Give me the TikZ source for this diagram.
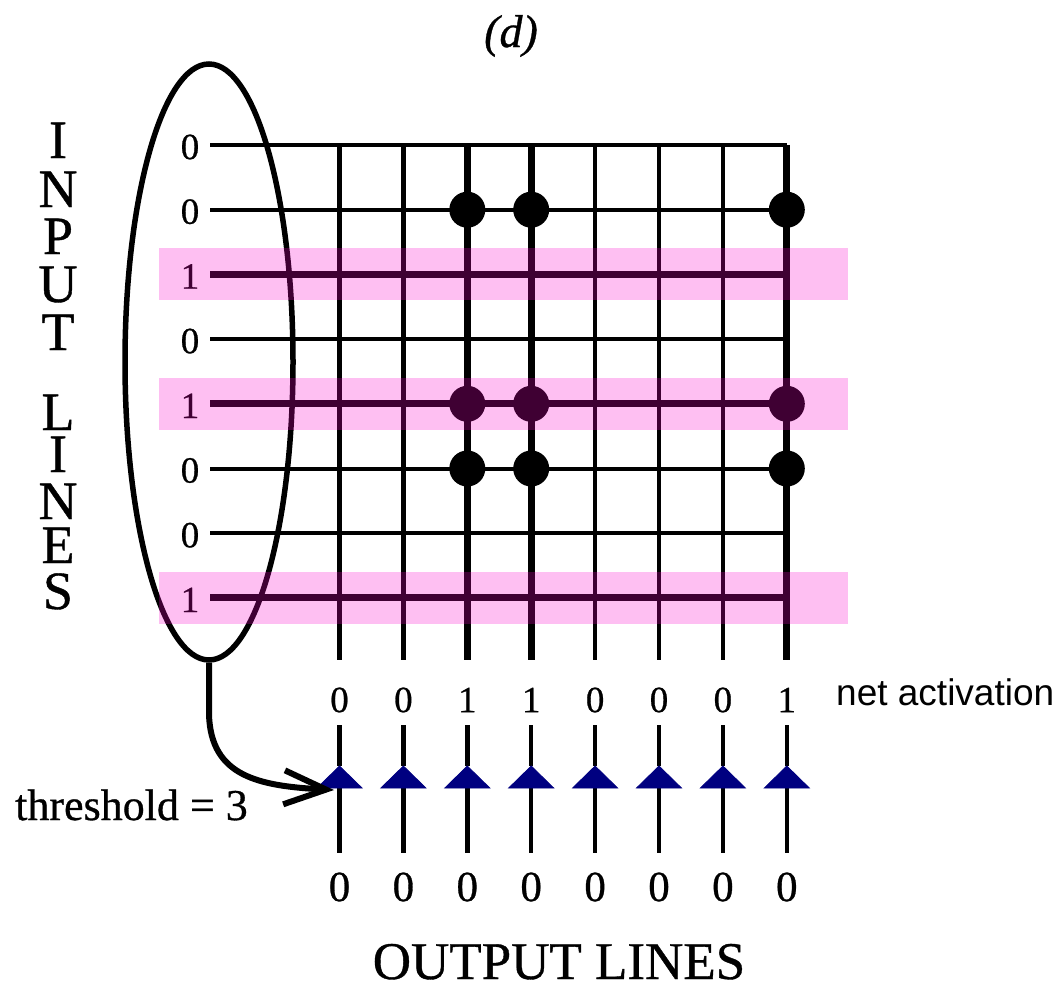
\documentclass[tikz,border=0pt]{standalone}
\usepackage{fontspec}
\setmainfont{Liberation Serif}[FakeBold=0.7]
\newfontfamily\sansfam{Liberation Sans}
\usetikzlibrary{arrows.meta,shapes.geometric}
\definecolor{bandpink}{RGB}{252,0,204}
\definecolor{trinavy}{RGB}{0,0,128}
\begin{document}
\begin{tikzpicture}[x=1pt,y=-1pt,
  digit/.style={font=\fontsize{37}{40}\selectfont, inner sep=0pt},
  outdigit/.style={font=\fontsize{43}{46}\selectfont, inner sep=0pt},
  dotnode/.style={circle, fill=black, minimum size=36pt, inner sep=0pt},
  band/.style={fill=bandpink, fill opacity=0.25},
  tri/.style={fill=trinavy, draw=trinavy, line width=0.8pt, line join=miter},
  stub/.style={line width=4.5pt}]
\useasboundingbox (0,0) rectangle (1062,987);
\fill[white] (0,0) rectangle (1062,987);

% ellipse grouping input lines
\node[draw, ellipse, line width=5.5pt, minimum width=168pt, minimum height=596pt, inner sep=0pt] (ell) at (209,362) {};

% rows
\foreach \i/\v/\w in {1/0/4,2/0/4,3/1/7,4/0/4,5/1/7,6/0/4,7/0/4,8/1/7} {
  \pgfmathsetmacro\yy{145+64.7*(\i-1)}
  \coordinate (r\i) at (210,\yy);
  \coordinate (re\i) at (787,\yy);
  \draw[line width=\w pt] (r\i) -- (re\i);
  \node[digit] (lab\i) at (190,\yy+2) {\v};
}

% columns
\foreach \j/\a/\b/\w in {1/0/0/4.5,2/0/0/4.5,3/1/0/7,4/1/0/7,5/0/0/4.5,6/0/0/4.5,7/0/0/4.5,8/1/0/7} {
  \pgfmathsetmacro\xx{339.5+63.9*(\j-1)}
  \coordinate (ct\j) at (\xx,145);
  \coordinate (cb\j) at (\xx,660);
  \draw[line width=\w pt] (ct\j) -- (cb\j);
  \node[digit] (net\j) at (\xx,700) {\a};
  \coordinate (ua\j) at (\xx,725);
  \coordinate (ap\j) at (\xx,766);
  \coordinate (bl\j) at (\xx-22.5,788);
  \coordinate (br\j) at (\xx+22.5,788);
  \coordinate (bm\j) at (\xx,788);
  \coordinate (ub\j) at (\xx,853);
  \draw[stub] (ua\j) -- (ap\j);
  \draw[stub] (bm\j) -- (ub\j);
  \filldraw[tri] (ap\j) -- (bl\j) -- (br\j) -- cycle;
  \node[outdigit] (out\j) at (\xx,887) {\b};
}

% connection dots
\foreach \j in {3,4,8} {
  \foreach \i in {2,5,6} {
    \pgfmathsetmacro\xx{339.5+63.9*(\j-1)}
    \pgfmathsetmacro\yy{145+64.7*(\i-1)}
    \node[dotnode] (d\j\i) at (\xx,\yy) {};
  }
}

% threshold arrow
\coordinate (thr) at (334,790);
\draw[line width=6pt, -{Straight Barb[length=42pt,width=34pt]}]
  (ell.south) -- ++(0,52) .. controls +(2,62) and +(-75,-4) .. (thr);

% highlight bands
\foreach \i in {3,5,8} {
  \pgfmathsetmacro\yy{145+64.7*(\i-1)}
  \fill[band] (159,\yy-26) rectangle (848,\yy+26);
}

% texts
\node[font=\fontsize{46}{50}\selectfont\itshape, inner sep=0pt] (title) at (511,36) {(d)};
\node[anchor=base, align=center, inner sep=0pt, font=\fontsize{54}{47}\selectfont] (inlab) at (58,609)
  {I\\[2pt] N\\ P\\[1pt] U\\[1pt] T\\[33pt] L\\[-5pt] I\\ N\\[-3pt] E\\[-1pt] S};
\node[anchor=base west, font=\fontsize{44}{48}\selectfont, inner sep=0pt] (thlab) at (15,820) {threshold = 3};
\node[anchor=base west, font=\sansfam\fontsize{37}{40}\selectfont, inner sep=0pt] (netlab) at (836,705) {net activation};
\node[anchor=base, font=\fontsize{53}{56}\selectfont, inner sep=0pt] (outlab) at (559,979) {OUTPUT LINES};
\end{tikzpicture}
\end{document}
